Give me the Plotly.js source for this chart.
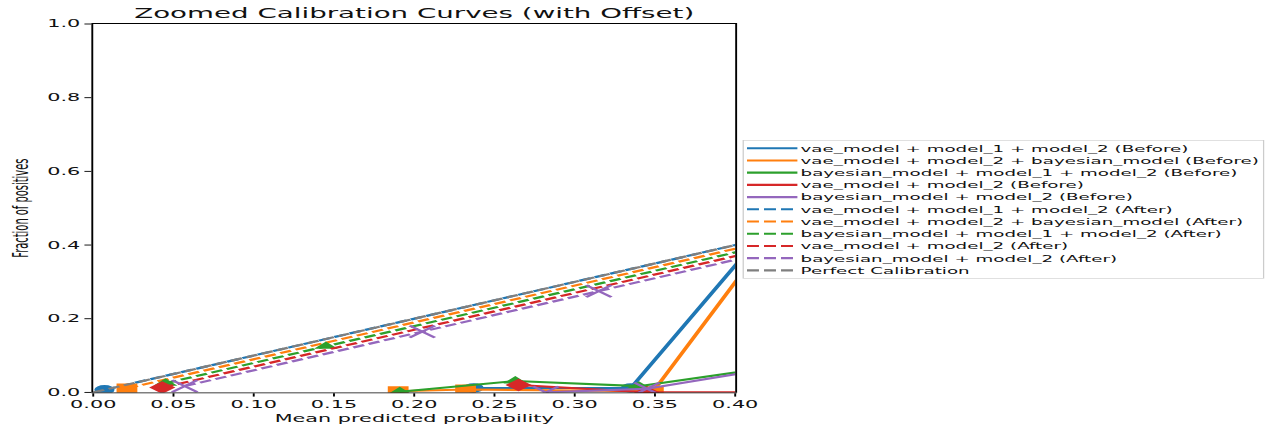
<!DOCTYPE html>
<html><head><meta charset="utf-8">
<script src="https://cdn.plot.ly/plotly-3.0.1.min.js"></script>
<style>
html,body{margin:0;padding:0;background:#fff;overflow:hidden;}
#wrap{width:1271px;height:427px;overflow:hidden;position:relative;}
#chart{width:2018px;height:1424px;transform:scale(0.63,0.3);transform-origin:0 0;position:absolute;left:0;top:0;}
</style></head><body><div id="wrap"><div id="chart"></div></div>
<script>
// ---- data ----
const modelNames = ["vae_model + model_1 + model_2", "vae_model + model_2 + bayesian_model",
  "bayesian_model + model_1 + model_2", "vae_model + model_2", "bayesian_model + model_2"];

const before1X = [0.237, 0.335, 0.45];          const before1Y = [0.012, 0.012, 0.60];
const before2X = [0.19, 0.232, 0.349, 0.45];    const before2Y = [0.003, 0.008, 0.003, 0.59];
const before3X = [0.191, 0.263, 0.340, 0.50];   const before3Y = [0.002, 0.031, 0.017, 0.116];
const before4X = [0.265, 0.345, 0.55];          const before4Y = [0.020, 0.0, 0.0];
const before5X = [0.282, 0.345, 0.50];          const before5Y = [0.0, 0.010, 0.12];

const after1X = [0.007, 0.62];                  const after1Y = [0.007, 0.62];
const after2X = [0.021, 0.61];                  const after2Y = [0.011, 0.60];
const after3X = [0.045, 0.145, 0.60];           const after3Y = [0.025, 0.125, 0.58];
const after4X = [0.043, 0.60];                  const after4Y = [0.013, 0.57];
const after5X = [0.057, 0.205, 0.315, 0.60];    const after5Y = [0.017, 0.165, 0.275, 0.56];

const perfectX = [0, 1];                        const perfectY = [0, 1];

const xTickVals = [0, 0.05, 0.10, 0.15, 0.20, 0.25, 0.30, 0.35, 0.40];
const xTickText = ["0.00","0.05","0.10","0.15","0.20","0.25","0.30","0.35","0.40"];
const yTickVals = [0, 0.2, 0.4, 0.6, 0.8, 1.0];
const yTickText = ["0.0","0.2","0.4","0.6","0.8","1.0"];

// ---- styles ----
const colors = ['#1f77b4','#ff7f0e','#2ca02c','#d62728','#9467bd'];
const symbols = ['circle','square','triangle-up','diamond','x-thin'];
const symSizes = [32, 33, 33, 32, 40];
const FONT = 'DejaVu Sans, sans-serif';
const LW = 7;
const DASH = '19px,8px';

const beforeX = [before1X, before2X, before3X, before4X, before5X];
const beforeY = [before1Y, before2Y, before3Y, before4Y, before5Y];
const afterX = [after1X, after2X, after3X, after4X, after5X];
const afterY = [after1Y, after2Y, after3Y, after4Y, after5Y];

const traces = [];
function addSeries(x, y, i, name, dash) {
  traces.push({x: x, y: y, mode: 'lines', name: name, showlegend: true, hoverinfo: 'skip',
    line: {color: colors[i], width: LW, dash: dash}});
  const isX = symbols[i] === 'x-thin';
  traces.push({x: x, y: y, mode: 'markers', showlegend: false, hoverinfo: 'skip',
    marker: {symbol: symbols[i], size: symSizes[i], color: colors[i],
      line: {color: colors[i], width: isX ? 6 : 0}}});
}
for (let i = 0; i < 5; i++) addSeries(beforeX[i], beforeY[i], i, modelNames[i] + ' (Before)', 'solid');
for (let i = 0; i < 5; i++) addSeries(afterX[i], afterY[i], i, modelNames[i] + ' (After)', DASH);
traces.push({x: perfectX, y: perfectY, mode: 'lines', name: 'Perfect Calibration', hoverinfo: 'skip',
  line: {color: '#7f7f7f', width: LW, dash: DASH}});

const axisBase = {
  showline: true, mirror: true, linecolor: '#000', linewidth: 3,
  ticks: 'outside', ticklen: 11, tickwidth: 3, tickcolor: '#000',
  tickfont: {size: 33, family: FONT, color: '#111'},
  showgrid: false, zeroline: false, fixedrange: true
};

const layout = {
  width: 2018, height: 1424,
  margin: {l: 148, r: 850, t: 80, b: 116, pad: 0},
  paper_bgcolor: '#fff', plot_bgcolor: '#fff',
  font: {family: FONT, color: '#111'},
  title: {text: 'Zoomed Calibration Curves (with Offset)', font: {size: 44, family: FONT, color: '#111'},
    x: 0.5, xref: 'paper', xanchor: 'center', y: 1, yref: 'paper', yanchor: 'bottom', pad: {b: 20}},
  xaxis: Object.assign({}, axisBase, {range: [0, 0.4], tickmode: 'array', tickvals: xTickVals, ticktext: xTickText,
    title: {text: 'Mean predicted probability', font: {size: 33, family: FONT, color: '#111'}, standoff: 17}}),
  yaxis: Object.assign({}, axisBase, {range: [0, 1.0], tickmode: 'array', tickvals: yTickVals, ticktext: yTickText,
    title: {text: 'Fraction of positives', font: {size: 33, family: FONT, color: '#111'}, standoff: 20}}),
  legend: {x: 1.0105, xanchor: 'left', y: 0.685, yanchor: 'top', bgcolor: '#fff',
    bordercolor: '#cccccc', borderwidth: 2, itemwidth: 80, tracegroupgap: 0,
    font: {size: 29, family: FONT, color: '#111'}},
  showlegend: true
};

Plotly.newPlot('chart', traces, layout, {staticPlot: true, displayModeBar: false, responsive: false});
</script></body></html>
